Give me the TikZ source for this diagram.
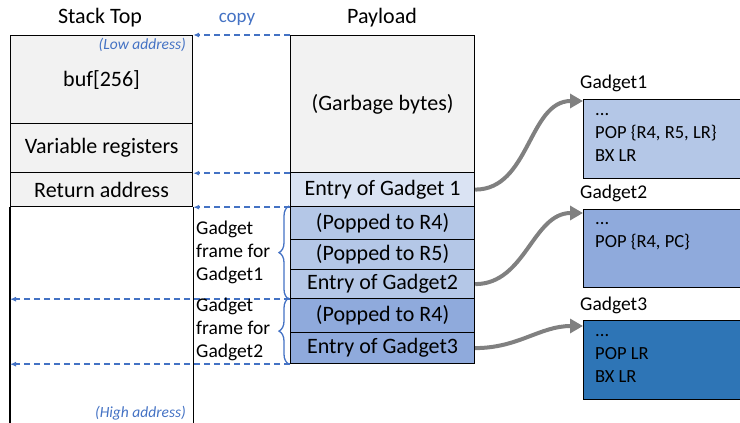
\documentclass[tikz,border=0pt]{standalone}
\usepackage{fontspec}
\setmainfont{Carlito}
\usetikzlibrary{arrows.meta,decorations.pathreplacing}
\definecolor{copyblue}{HTML}{4472C4}
\definecolor{cellgray}{HTML}{F2F2F2}
\definecolor{blueA}{HTML}{DAE3F3}
\definecolor{blueB}{HTML}{B4C7E7}
\definecolor{blueC}{HTML}{8FAADC}
\definecolor{blueD}{HTML}{2E75B6}
\definecolor{jumpgray}{HTML}{808080}
\begin{document}
\begin{tikzpicture}[x=1pt,y=-1pt,
  cell/.style={draw=black, line width=1.2pt, inner sep=0pt, anchor=north west,
    font=\fontsize{22}{26}\selectfont},
  stackcell/.style={cell, minimum width=182pt},
  paycell/.style={cell, minimum width=184pt},
  gadgetbox/.style={draw=black, line width=1.2pt, inner sep=0pt, anchor=north west,
    minimum width=175pt},
  title/.style={font=\fontsize{22}{26}\selectfont},
  glabel/.style={font=\fontsize{19.5}{23}\selectfont, anchor=west, inner sep=0pt},
  gtext/.style={font=\fontsize{18.5}{23}\selectfont, anchor=west, align=left, inner sep=0pt},
  frametext/.style={font=\fontsize{19.5}{23}\selectfont, anchor=west, align=left, inner sep=0pt},
  addr/.style={font=\fontsize{15.5}{17}\selectfont\itshape, text=copyblue, anchor=east, inner sep=0pt},
  copyarrow/.style={draw=copyblue, line width=1.6pt, dash pattern=on 6pt off 4pt,
    -{Latex[length=6pt,width=5pt]}},
  jump/.style={draw=jumpgray, line width=4pt, -{Triangle[length=13pt,width=14pt]}},
  framebrace/.style={draw=copyblue, line width=1.3pt, decorate,
    decoration={brace, amplitude=10pt}},
  edge/.style={draw=black, line width=1.2pt}
]
\useasboundingbox (0,0) rectangle (740,423);
\clip (0,0) rectangle (740,423);

% column titles
\node[title] (stacktitle) at (100,18) {Stack Top};
\node[title] (paytitle) at (382,18) {Payload};
\node[font=\fontsize{19}{22}\selectfont, text=copyblue] (copy) at (237,19) {copy};

% stack frame
\node[stackcell, fill=cellgray, minimum height=88pt] (buf) at (10,35) {buf[256]};
\node[stackcell, fill=cellgray, minimum height=49pt] (varreg) at (10,123) {Variable registers};
\node[stackcell, fill=cellgray, minimum height=34pt] (ret) at (10,172) {Return address};
\draw[edge] (ret.south west) -- ++(0,240);
\draw[edge] (ret.south east) -- ++(0,240);
\node[addr] (lowaddr) at (186,45) {(Low address)};
\node[addr] (highaddr) at (186,413) {(High address)};

% payload
\node[paycell, fill=cellgray, minimum height=137pt] (garb) at (290,35) {(Garbage bytes)};
\node[paycell, fill=blueA, minimum height=34pt] (e1) at (290,172) {Entry of Gadget 1};
\node[paycell, fill=blueB, minimum height=33pt] (p1) at (290,206) {(Popped to R4)};
\node[paycell, fill=blueB, minimum height=30pt] (p2) at (290,239) {(Popped to R5)};
\node[paycell, fill=blueB, minimum height=29pt] (e2) at (290,269) {Entry of Gadget2};
\node[paycell, fill=blueC, minimum height=34pt] (p3) at (290,298) {(Popped to R4)};
\node[paycell, fill=blueC, minimum height=31pt] (e3) at (290,332) {Entry of Gadget3};

% copy arrows
\draw[copyarrow] (garb.north west) -- (buf.north east);
\draw[copyarrow] (garb.south west) -- (varreg.south east);
\draw[copyarrow] (e1.south west) -- (ret.south east);
\draw[copyarrow] (e2.south west) -- (e2.south west -| buf.west);
\draw[copyarrow] (e3.south west) -- (e3.south west -| buf.west);

% gadget frames
\draw[framebrace] ([xshift=-1pt]e2.south west) -- ([xshift=-1pt]p1.north west);
\draw[framebrace] ([xshift=-1pt]e3.south west) -- ([xshift=-1pt]p3.north west);
\node[frametext] (frame1) at (196,252) {Gadget\\frame for\\Gadget1};
\node[frametext] (frame2) at (196,329) {Gadget\\frame for\\Gadget2};

% gadgets
\node[glabel] (g1label) at (580,83) {Gadget1};
\node[gadgetbox, fill=blueB, minimum height=79pt] (g1) at (583,99) {};
\node[gtext] (g1code) at (595,137) {...\\POP \{R4, R5, LR\}\\BX LR};

\node[glabel] (g2label) at (580,193) {Gadget2};
\node[gadgetbox, fill=blueC, minimum height=78pt] (g2) at (583,209) {};
\node[gtext] (g2code) at (595,236) {...\\POP \{R4, PC\}};

\node[glabel] (g3label) at (580,305) {Gadget3};
\node[gadgetbox, fill=blueD, minimum height=79pt] (g3) at (583,320) {};
\node[gtext] (g3code) at (595,358) {...\\POP LR\\BX LR};

% control-flow jumps
\draw[jump] (e1.east) to[out=0,in=180] ([shift={(0,2)}]g1.north west);
\draw[jump] (e2.east) to[out=0,in=180] ([shift={(0,4)}]g2.north west);
\draw[jump] (e3.east) to[out=0,in=180] ([shift={(0,6)}]g3.north west);
\end{tikzpicture}
\end{document}
